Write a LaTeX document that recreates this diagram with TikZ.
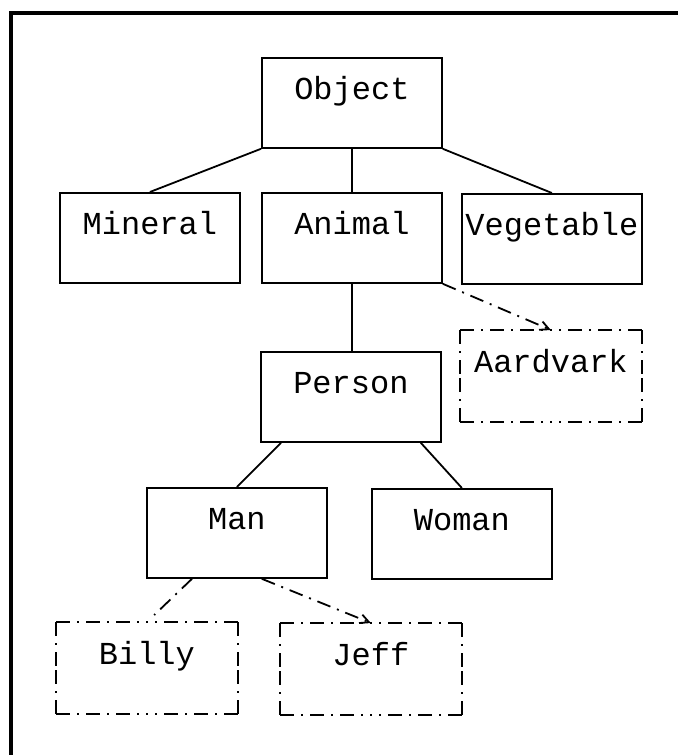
\documentclass[tikz,border=0pt]{standalone}
\usepackage{fontspec}
\setmonofont{Liberation Mono}
\usetikzlibrary{arrows.meta}
\newcommand\dframe[1]{%
  \draw[dashdot] (#1.north west) -- (#1.north);
  \draw[dashdot] (#1.north east) -- (#1.north);
  \draw[dashdot] (#1.south west) -- (#1.south);
  \draw[dashdot] (#1.south east) -- (#1.south);
  \draw[dashdot] (#1.north west) -- (#1.west);
  \draw[dashdot] (#1.south west) -- (#1.west);
  \draw[dashdot] (#1.north east) -- (#1.east);
  \draw[dashdot] (#1.south east) -- (#1.east);
}
\begin{document}
\begin{tikzpicture}[x=1pt,y=-1pt,
  box/.style={draw, line width=1.8pt, inner sep=0pt, minimum width=180pt,
    text height=42pt, text depth=48pt, anchor=north west,
    font=\ttfamily\fontsize{32}{32}\selectfont},
  dbox/.style={box, draw=none},
  link/.style={line width=1.8pt},
  dashdot/.style={line width=1.8pt, dash pattern=on 14pt off 7pt on 2pt off 7pt},
  arr/.style={dashdot, -{Straight Barb[length=9pt,width=9pt]}}
]
\useasboundingbox (0,0) rectangle (678,755);
\draw[line width=4.5pt] (11,755) -- (11,13) -- (678,13);

\node[box]  (obj) at (261,57)  {Object};
\node[box]  (min) at (59,192)  {Mineral};
\node[box]  (ani) at (261,192) {Animal};
\node[box]  (veg) at (461,193) {Vegetable};
\node[dbox] (aar) at (460,330) {Aardvark};
\node[box]  (per) at (260,351) {Person};
\node[box]  (man) at (146,487) {Man};
\node[box]  (wom) at (371,488) {Woman};
\node[dbox] (bil) at (56,622)  {Billy};
\node[dbox] (jef) at (280,623) {Jeff};

\dframe{aar}
\dframe{bil}
\dframe{jef}

\draw[link] (obj.south west) -- (min.north);
\draw[link] (obj.south) -- (ani.north);
\draw[link] (obj.south east) -- (veg.north);
\draw[arr] (ani.south east) -- (aar.north);
\draw[link] (ani.south) -- (ani.south |- per.north);
\draw[link] ([xshift=21pt]per.south west) -- (man.north);
\draw[link] ([xshift=-21pt]per.south east) -- (wom.north);
\draw[dashdot, shorten >=10pt] ([xshift=46pt]man.south west) -- (bil.north);
\draw[arr] ([xshift=-66pt]man.south east) -- (jef.north);
\end{tikzpicture}
\end{document}
